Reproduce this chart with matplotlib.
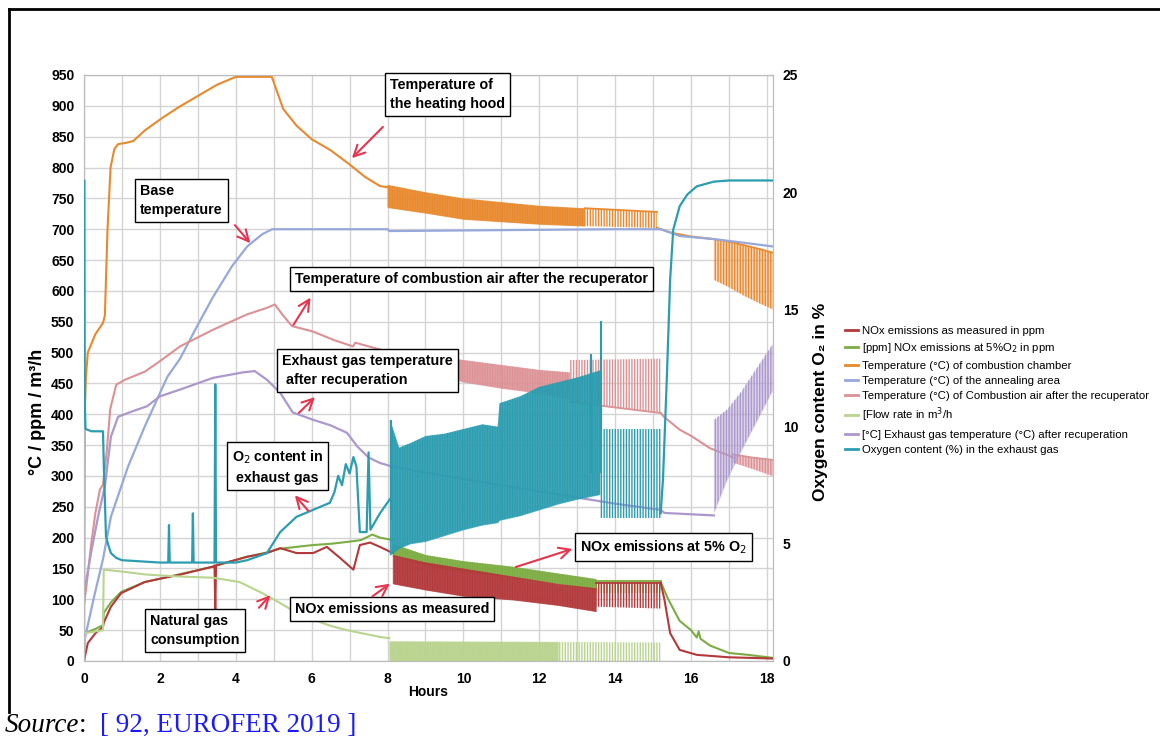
import matplotlib
matplotlib.use("Agg")
import matplotlib.pyplot as plt
from matplotlib.lines import Line2D

plt.rcParams['font.family'] = ['Liberation Sans', 'DejaVu Sans']
plt.rcParams['hatch.linewidth'] = 1.0

# ---------------------------------------------------------------------------
# data (hours / left-axis units, O2 in %)
# ---------------------------------------------------------------------------
# NOx as measured (ppm)
nox_t = [0, 0.1, 0.3, 0.5, 0.52, 0.71, 0.98, 1.6, 2.2, 2.53, 3.4, 3.44, 3.46, 3.48, 4.3, 4.82,
         5.17, 5.6, 6.04, 6.4, 6.75, 7.1, 7.27, 7.54, 7.8, 8.14]
nox_v = [0, 29, 45, 55, 62, 88, 110, 128, 136, 140, 153, 155, 80, 155, 169, 175,
         183, 175, 175, 185, 167, 148, 188, 192, 185, 175]
nox_band_t = [8.14, 9.0, 10.0, 11.3, 12.5, 13.5]
nox_band_hi = [172, 160, 150, 137, 125, 118]
nox_band_lo = [125, 115, 105, 99, 90, 80]
nox_spk_t = [13.5, 15.2]
nox_spk_hi = [127, 127]
nox_spk_lo = [88, 85]
nox_end_t = [15.2, 15.3, 15.45, 15.7, 16.15, 17.0, 18.16]
nox_end_v = [127, 99, 45, 18, 10, 6, 4]

# NOx at 5 % O2 (ppm)
nox5_t = [0, 0.02, 0.3, 0.5, 0.52, 0.71, 0.98, 1.6, 2.2, 3.4, 4.3, 4.82, 5.17, 5.6, 6.04,
          6.5, 6.93, 7.3, 7.6, 7.8, 8.14]
nox5_v = [0, 45, 52, 58, 78, 95, 112, 128, 136, 153, 169, 176, 182, 185, 188,
          190, 193, 196, 205, 200, 196]
nox5_band_t = [8.14, 9.0, 10.0, 11.3, 12.5, 13.5]
nox5_band_hi = [190, 172, 162, 153, 142, 133]
nox5_band_lo = [170, 155, 145, 135, 125, 115]
nox5_spk_t = [13.5, 15.2]
nox5_spk_hi = [130, 130]
nox5_spk_lo = [110, 110]
nox5_end_t = [15.2, 15.4, 15.7, 16.0, 16.15, 16.2, 16.25, 16.5, 17.0, 17.5, 18.16]
nox5_end_v = [128, 100, 65, 50, 38, 48, 36, 25, 13, 10, 5]

# combustion chamber temperature (degC)
cham_t = [0, 0.02, 0.05, 0.1, 0.3, 0.5, 0.55, 0.62, 0.7, 0.8, 0.9, 1.1, 1.3, 1.6, 2.1, 2.5,
          3.0, 3.5, 4.0, 4.95, 5.25, 5.6, 6.0, 6.5, 7.0, 7.4, 7.8, 8.0]
cham_v = [0, 400, 460, 500, 530, 548, 560, 700, 800, 830, 838, 840, 843, 860, 882, 898,
          916, 934, 947, 947, 895, 868, 846, 828, 805, 785, 770, 768]
cham_band_t = [8.0, 9.0, 10.0, 11.0, 12.0, 13.2]
cham_band_hi = [772, 760, 750, 744, 738, 734]
cham_band_lo = [735, 726, 716, 712, 708, 705]
cham_spk_t = [13.2, 15.1]
cham_spk_hi = [734, 728]
cham_spk_lo = [705, 702]
cham_mid_t = [15.1, 15.5, 16.0, 16.6]
cham_mid_v = [702, 694, 688, 684]
cham_end_t = [16.6, 17.0, 17.4, 17.8, 18.16]
cham_end_hi = [684, 680, 674, 668, 662]
cham_end_lo = [618, 606, 592, 580, 570]

# annealing area temperature (degC)
ann_t = [0, 0.25, 0.5, 0.71, 1.16, 1.6, 2.2, 2.53, 3.0, 3.4, 3.9, 4.3, 4.7, 4.96, 8.0, 8.05,
         10.0, 12.0, 14.0, 15.2, 15.7, 16.6, 17.4, 18.16]
ann_v = [30, 100, 165, 234, 315, 380, 461, 490, 545, 590, 640, 672, 692, 700, 700, 697,
         698, 699, 700, 700, 689, 684, 678, 672]

# combustion air after recuperator (degC)
air_t = [0, 0.1, 0.18, 0.3, 0.42, 0.5, 0.6, 0.69, 0.85, 1.08, 1.6, 2.0, 2.53, 3.4, 4.3, 4.8,
         5.03, 5.25, 5.48, 6.04, 6.6, 7.09, 7.15, 7.8, 8.1]
air_v = [90, 140, 185, 240, 278, 286, 340, 408, 448, 456, 469, 486, 510, 537, 562, 572,
         578, 560, 543, 534, 520, 510, 516, 505, 500]
air_band_t = [8.1, 9.0, 10.0, 11.0, 12.0, 12.8]
air_band_hi = [502, 498, 488, 480, 472, 468]
air_band_lo = [490, 470, 452, 442, 434, 425]
air_spk_t = [12.8, 15.2]
air_spk_hi = [488, 490]
air_spk_lo = [420, 402]
air_mid_t = [15.2, 15.3, 15.7, 16.0, 16.5, 17.0, 17.1]
air_mid_v = [402, 395, 375, 365, 345, 333, 330]
air_end_t = [17.1, 17.6, 18.16]
air_end_hi = [335, 330, 326]
air_end_lo = [322, 312, 300]

# natural gas flow rate (m3/h)
gas_t = [0, 0.02, 0.5, 0.52, 1.0, 1.66, 2.5, 3.4, 4.1, 4.7, 5.17, 5.6, 6.04, 6.5, 6.93, 7.8, 8.05]
gas_v = [0, 45, 50, 148, 145, 140, 137, 135, 128, 110, 94, 78, 67, 57, 50, 39, 37]
gas_band_t = [8.05, 12.5]
gas_band_hi = [32, 31]
gas_band_lo = [0, 0]
gas_spk_t = [12.5, 15.2]
gas_spk_hi = [31, 30]
gas_spk_lo = [0, 0]

# exhaust gas after recuperation (degC)
exh_t = [0, 0.2, 0.37, 0.55, 0.71, 0.9, 1.24, 1.66, 2.0, 2.53, 3.4, 4.2, 4.5, 4.82, 5.17,
         5.5, 6.04, 6.5, 6.93, 7.2, 7.5, 7.8, 8.14, 10.0, 12.0, 14.0, 15.2, 15.3, 16.6]
exh_v = [110, 180, 234, 283, 364, 396, 404, 413, 429, 440, 459, 468, 470, 456, 435,
         403, 391, 382, 370, 348, 330, 321, 315, 295, 275, 255, 245, 240, 236]
exh_band_t = [16.6, 16.95, 17.3, 17.75, 18.16]
exh_band_hi = [391, 408, 435, 477, 515]
exh_band_lo = [240, 294, 338, 391, 440]

# oxygen content in exhaust gas (%)
o2_t = [0, 0.01, 0.02, 0.04, 0.2, 0.5, 0.53, 0.58, 0.65, 0.71, 0.85, 1.0, 1.5, 2.0, 2.22,
        2.24, 2.26, 2.85, 2.87, 2.89, 3.0, 3.44, 3.46, 3.48, 4.0, 4.3, 4.82, 5.17, 5.6, 6.04,
        6.48, 6.6, 6.7, 6.8, 6.9, 7.0, 7.1, 7.18, 7.27, 7.45, 7.5, 7.55, 7.8, 8.06]
o2_v = [20.5, 20.5, 11.0, 9.9, 9.8, 9.8, 7.9, 5.3, 4.9, 4.6, 4.4, 4.3, 4.25, 4.2, 4.2,
        5.8, 4.2, 4.2, 6.3, 4.2, 4.2, 4.2, 11.8, 4.2, 4.2, 4.3, 4.6, 5.5, 6.15, 6.45,
        6.75, 7.2, 7.9, 7.5, 8.4, 8.0, 8.7, 8.3, 5.5, 5.5, 8.9, 5.6, 6.3, 6.9]
o2_band_t = [8.06, 8.3, 8.6, 9.0, 9.5, 10.0, 10.5, 10.9, 10.95, 11.5, 12.0, 12.5, 13.0, 13.6]
o2_band_hi = [10.3, 9.1, 9.3, 9.6, 9.7, 9.9, 10.1, 10.0, 11.0, 11.3, 11.7, 11.9, 12.1, 12.4]
o2_band_lo = [4.5, 4.8, 5.0, 5.1, 5.35, 5.6, 5.8, 5.9, 6.0, 6.2, 6.45, 6.7, 6.9, 7.1]
o2_spk_t = [13.6, 15.2]
o2_spk_hi = [9.9, 9.9]
o2_spk_lo = [6.1, 6.1]
o2_peak_t = [8.1, 13.35, 13.62]
o2_peak_hi = [10.3, 13.1, 14.5]
o2_peak_lo = [6.0, 8.0, 8.0]
o2_end_t = [15.2, 15.26, 15.36, 15.45, 15.53, 15.7, 15.9, 16.15, 16.6, 17.0, 18.16]
o2_end_v = [6.3, 7.75, 12.0, 16.3, 18.4, 19.4, 19.9, 20.25, 20.45, 20.5, 20.5]

legend_labels = ["NOx emissions as measured in ppm",
                 "[ppm] NOx emissions at 5%O$_2$ in ppm",
                 "Temperature (°C) of combustion chamber",
                 "Temperature (°C) of the annealing area",
                 "Temperature (°C) of Combustion air after the recuperator",
                 "[Flow rate in m$^3$/h",
                 "[°C] Exhaust gas temperature (°C) after recuperation",
                 "Oxygen content (%) in the exhaust gas"]

C_RED = '#b3393b'
C_GREEN = '#7cad42'
C_ORANGE = '#e8892e'
C_BLUE = '#97a9db'
C_PINK = '#dc9195'
C_LGREEN = '#b9d48e'
C_PURPLE = '#ab98cc'
C_TEAL = '#2c9db0'
C_ARROW = '#e8354f'
colors = [C_RED, C_GREEN, C_ORANGE, C_BLUE, C_PINK, C_LGREEN, C_PURPLE, C_TEAL]

DENSE = '|' * 10
SPARSE = '|' * 6


def band(axis, t, lo, hi, color, z, hatch=DENSE, alpha=0.75, edge=None):
    # oscillating signal drawn as a hatched envelope
    if alpha > 0:
        axis.fill_between(t, lo, hi, color=color, alpha=alpha, lw=0, zorder=z)
    axis.fill_between(t, lo, hi, facecolor='none', edgecolor=color, hatch=hatch, lw=0, zorder=z)
    if edge == 'hi':
        axis.plot(t, hi, color=color, lw=1.3, zorder=z)
    elif edge == 'lo':
        axis.plot(t, lo, color=color, lw=1.3, zorder=z)


fig = plt.figure(figsize=(11.6, 7.4), dpi=100)
ax = fig.add_axes([84 / 1160, 1 - 661 / 740, 689 / 1160, 586 / 740])
ax.set_xlim(0, 18.16)
ax.set_ylim(0, 950)

# NOx measured
ax.plot(nox_t, nox_v, color=C_RED, lw=1.5, zorder=3)
band(ax, nox_band_t, nox_band_lo, nox_band_hi, C_RED, 3)
band(ax, nox_spk_t, nox_spk_lo, nox_spk_hi, C_RED, 3, hatch=SPARSE, alpha=0, edge='hi')
ax.plot(nox_end_t, nox_end_v, color=C_RED, lw=1.5, zorder=3)

# NOx 5 % O2
ax.plot(nox5_t, nox5_v, color=C_GREEN, lw=1.5, zorder=2.9)
band(ax, nox5_band_t, nox5_band_lo, nox5_band_hi, C_GREEN, 2.9)
band(ax, nox5_spk_t, nox5_spk_lo, nox5_spk_hi, C_GREEN, 2.9, hatch=SPARSE, alpha=0, edge='hi')
ax.plot(nox5_end_t, nox5_end_v, color=C_GREEN, lw=1.5, zorder=2.9)

# combustion chamber
ax.plot(cham_t, cham_v, color=C_ORANGE, lw=1.5, zorder=3.2)
band(ax, cham_band_t, cham_band_lo, cham_band_hi, C_ORANGE, 3.2)
band(ax, cham_spk_t, cham_spk_lo, cham_spk_hi, C_ORANGE, 3.2, hatch=SPARSE, alpha=0, edge='hi')
ax.plot(cham_mid_t, cham_mid_v, color=C_ORANGE, lw=1.5, zorder=3.2)
band(ax, cham_end_t, cham_end_lo, cham_end_hi, C_ORANGE, 3.2, hatch=SPARSE, alpha=0.3, edge='hi')

# annealing area
ax.plot(ann_t, ann_v, color=C_BLUE, lw=1.6, zorder=3.3)

# combustion air
ax.plot(air_t, air_v, color=C_PINK, lw=1.5, zorder=3.4)
band(ax, air_band_t, air_band_lo, air_band_hi, C_PINK, 3.4, alpha=0.55)
band(ax, air_spk_t, air_spk_lo, air_spk_hi, C_PINK, 3.4, hatch=SPARSE, alpha=0, edge='lo')
ax.plot(air_mid_t, air_mid_v, color=C_PINK, lw=1.5, zorder=3.4)
band(ax, air_end_t, air_end_lo, air_end_hi, C_PINK, 3.4, hatch=SPARSE, alpha=0.5, edge='hi')

# natural gas
ax.plot(gas_t, gas_v, color=C_LGREEN, lw=1.5, zorder=3.5)
band(ax, gas_band_t, gas_band_lo, gas_band_hi, C_LGREEN, 3.5)
band(ax, gas_spk_t, gas_spk_lo, gas_spk_hi, C_LGREEN, 3.5, hatch=SPARSE, alpha=0)

# exhaust gas
ax.plot(exh_t, exh_v, color=C_PURPLE, lw=1.6, zorder=3.6)
band(ax, exh_band_t, exh_band_lo, exh_band_hi, C_PURPLE, 3.6, hatch=SPARSE, alpha=0.4)

# grid, ticks
ax.set_xticks(range(0, 19, 2))
ax.set_xticks(range(0, 19), minor=True)
ax.set_yticks(range(0, 951, 50))
ax.grid(which='both', axis='x', color='#d4d4d4', lw=1)
ax.grid(which='major', axis='y', color='#d4d4d4', lw=1)
ax.set_axisbelow(True)
ax.tick_params(which='both', length=0, labelsize=10)
ax.tick_params(axis='y', pad=7)
ax.tick_params(axis='x', pad=8)
for lbl in ax.get_xticklabels() + ax.get_yticklabels():
    lbl.set_fontweight('bold')
for s in ax.spines.values():
    s.set_color('#bcbcbc')

# oxygen on the right axis
ax2 = ax.twinx()
ax2.set_ylim(0, 25)
ax2.set_yticks(range(0, 26, 5))
ax2.tick_params(length=0, labelsize=10, pad=7)
for lbl in ax2.get_yticklabels():
    lbl.set_fontweight('bold')
for s in ax2.spines.values():
    s.set_color('#bcbcbc')
ax2.plot(o2_t, o2_v, color=C_TEAL, lw=1.6, zorder=4)
band(ax2, o2_band_t, o2_band_lo, o2_band_hi, C_TEAL, 4, alpha=0.7)
band(ax2, o2_spk_t, o2_spk_lo, o2_spk_hi, C_TEAL, 4, hatch=SPARSE, alpha=0)
ax2.vlines(o2_peak_t, o2_peak_lo, o2_peak_hi, color=C_TEAL, lw=1.5, zorder=4)
ax2.plot(o2_end_t, o2_end_v, color=C_TEAL, lw=1.6, zorder=4)

# annotation boxes and arrows (placed in left-axis data units)
box = dict(boxstyle='square,pad=0.35', fc='white', ec='black', lw=1)
notes = [
    ("Temperature of\nthe heating hood", 8.07, 945, 'left'),
    ("Base\ntemperature", 1.48, 773, 'left'),
    ("Temperature of combustion air after the recuperator", 5.56, 631, 'left'),
    ("Exhaust gas temperature\n after recuperation", 5.22, 498, 'left'),
    ("O$_2$ content in\nexhaust gas", 3.9, 344, 'center'),
    ("NOx emissions at 5% O$_2$", 13.07, 199, 'left'),
    ("NOx emissions as measured", 5.56, 96, 'left'),
    ("Natural gas\nconsumption", 1.74, 76, 'left'),
]
for txt, x, y, al in notes:
    ax2.text(x, y, txt, transform=ax.transData, ha='left', va='top', multialignment=al,
             fontsize=10.3, fontweight='bold', bbox=box, zorder=6, linespacing=1.45)

arrows = [((7.93, 869), (7.01, 812)),
          ((3.93, 710), (4.43, 674)),
          ((5.48, 541), (6.01, 593)),
          ((5.61, 399), (6.14, 431)),
          ((5.96, 240), (5.51, 272)),
          ((11.31, 151), (12.94, 183)),
          ((7.54, 102), (8.12, 128)),
          ((4.56, 83), (4.96, 110))]
for tail, head in arrows:
    ax2.annotate('', xy=head, xytext=tail, xycoords=ax.transData, textcoords=ax.transData,
                 arrowprops=dict(arrowstyle='->', color=C_ARROW, lw=1.5, mutation_scale=20),
                 zorder=6)

# axis titles
fig.text(38 / 1160, 1 - 412 / 740, "°C / ppm / m³/h", rotation=90, ha='center', va='center',
         fontsize=13, fontweight='bold')
fig.text(820 / 1160, 1 - 402 / 740, "Oxygen content O₂ in %", rotation=90, ha='center',
         va='center', fontsize=12.5, fontweight='bold')
fig.text(428 / 1160, 1 - 692 / 740, "Hours", ha='center', va='center', fontsize=10,
         fontweight='bold')

# legend
handles = [Line2D([], [], color=c, lw=2) for c in colors]
fig.legend(handles, legend_labels, loc='upper left', bbox_to_anchor=(835 / 1160, 1 - 316 / 740),
           frameon=False, fontsize=8.2, handlelength=1.1, handletextpad=0.35, labelspacing=0.45)

# page frame and source line
fig.add_artist(Line2D([9 / 1160, 1], [1 - 9 / 740, 1 - 9 / 740], color='black', lw=2))
fig.add_artist(Line2D([9 / 1160, 9 / 1160], [1 - 9 / 740, 1 - 712 / 740], color='black', lw=2))
fig.text(5 / 1160, 8 / 740, "Source", family='Liberation Serif', style='italic', fontsize=19.5,
         va='baseline')
fig.text(79 / 1160, 8 / 740, ":", family='Liberation Serif', fontsize=19.5, va='baseline')
fig.text(100 / 1160, 8 / 740, "[ 92, EUROFER 2019 ]", family='Liberation Serif', fontsize=19.5,
         va='baseline', color='#1a1aff')

fig.savefig("out.png", dpi=100)
